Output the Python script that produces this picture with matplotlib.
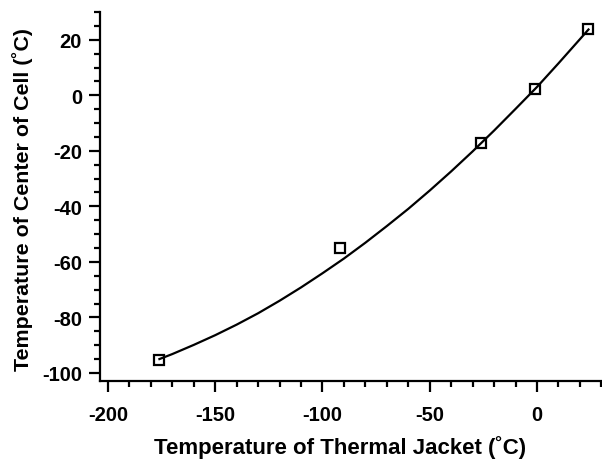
import matplotlib
matplotlib.use("Agg")
import matplotlib.pyplot as plt
from matplotlib.ticker import MultipleLocator

# measured points (jacket temperature vs cell centre temperature)
jacket_t = [-176, -92, -26, -1, 24]
cell_t = [-95.2, -55.0, -17.1, 2.3, 23.7]

# fitted curve
fit_x = [-176, -170, -160, -150, -140, -130, -120, -110, -100, -90, -80,
         -70, -60, -50, -40, -30, -20, -10, 0, 10, 20, 24]
fit_y = [-95.0, -93.2, -89.9, -86.4, -82.6, -78.5, -74.0, -69.2, -64.1, -58.8, -53.1,
         -47.1, -40.9, -34.3, -27.4, -20.2, -12.7, -4.9, 3.0, 11.5, 20.2, 23.7]

plt.rcParams['font.family'] = ['Liberation Sans', 'DejaVu Sans']
plt.rcParams['font.weight'] = 'bold'
plt.rcParams['axes.unicode_minus'] = False

fig = plt.figure(figsize=(6.02, 4.6), dpi=100)
ax = fig.add_axes([100 / 602, 1 - 382 / 460, 502 / 602, 369 / 460])

ax.plot(fit_x, fit_y, color='black', lw=1.6, zorder=2)
ax.plot(jacket_t, cell_t, 's', mfc='none', mec='black', mew=1.6, ms=7.5, zorder=3)

ax.set_xlim(-203.7, 30.3)
ax.set_ylim(-102.9, 30)
ax.xaxis.set_major_locator(MultipleLocator(50))
ax.xaxis.set_minor_locator(MultipleLocator(10))
ax.yaxis.set_major_locator(MultipleLocator(20))
ax.yaxis.set_minor_locator(MultipleLocator(5))

for s in ['top', 'right']:
    ax.spines[s].set_visible(False)
for s in ['left', 'bottom']:
    ax.spines[s].set_linewidth(1.6)

ax.tick_params(which='major', length=8, width=1.6, labelsize=14.5, direction='out')
ax.tick_params(which='minor', length=4.5, width=1.6, direction='out')
ax.tick_params(axis='x', pad=9)
ax.tick_params(axis='y', pad=5)

ax.set_xlabel('Temperature of Thermal Jacket (˚C)', fontsize=16, fontweight='bold')
ax.set_ylabel('Temperature of Center of Cell (˚C)', fontsize=15.4, fontweight='bold')
ax.xaxis.set_label_coords(0.479, -0.146)
ax.yaxis.set_label_coords(-0.133, 0.495)

fig.savefig('out.png', dpi=100)
